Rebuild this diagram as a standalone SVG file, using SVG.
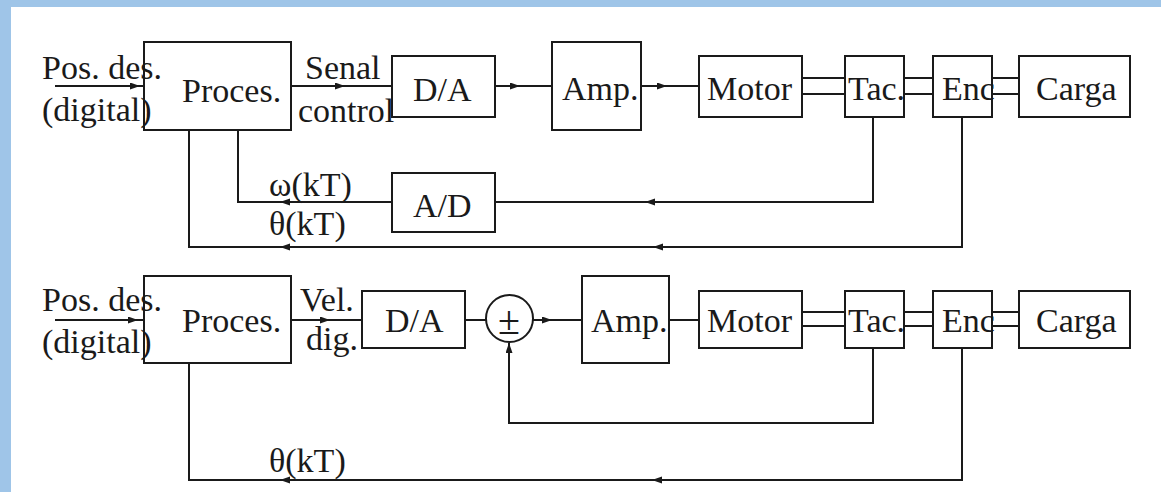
<svg xmlns="http://www.w3.org/2000/svg" width="1161" height="492" viewBox="0 0 1161 492">
<style>
.box{fill:none;stroke:#1a1a1a;stroke-width:2}
.w{fill:none;stroke:#1a1a1a;stroke-width:2}
.t{font-family:"Liberation Serif","Times New Roman",serif;font-size:34px;fill:#1a1a1a}
.pm{font-family:"Liberation Serif","Times New Roman",serif;font-size:40px;fill:#1a1a1a}
.border{fill:#9fc5e8}
</style>
<defs>
<marker id="ah" markerUnits="userSpaceOnUse" markerWidth="12" markerHeight="9" refX="10" refY="3.5" orient="auto">
<path d="M0,0 L10,3.5 L0,7 z" fill="#1a1a1a"/>
</marker>
</defs>
<rect x="0" y="0" width="1161" height="492" fill="#ffffff"/>
<rect class="border" x="0" y="0" width="1161" height="7"/>
<rect class="border" x="0" y="0" width="11" height="492"/>

<g id="connectors">
<!-- top row -->
<path class="w" d="M55,86 H140" marker-end="url(#ah)"/><path class="w" d="M140,86 H144"/>
<path class="w" d="M291,86 H345" marker-end="url(#ah)"/><path class="w" d="M345,86 H392"/>
<path class="w" d="M495,86 H520" marker-end="url(#ah)"/><path class="w" d="M520,86 H552"/>
<path class="w" d="M641,86 H667" marker-end="url(#ah)"/><path class="w" d="M667,86 H699"/>
<path class="w" d="M802,78 H845 M802,94 H845 M904,78 H933 M904,94 H933 M992,78 H1019 M992,94 H1019"/>
<path class="w" d="M873,117 V202 H645" marker-end="url(#ah)"/><path class="w" d="M645,202 H495"/>
<path class="w" d="M392,202 H280" marker-end="url(#ah)"/><path class="w" d="M280,202 H238 V130"/>
<path class="w" d="M962,117 V247 H653" marker-end="url(#ah)"/>
<path class="w" d="M653,247 H280" marker-end="url(#ah)"/><path class="w" d="M280,247 H189 V130"/>
<!-- bottom row -->
<path class="w" d="M55,320 H138" marker-end="url(#ah)"/><path class="w" d="M138,320 H144"/>
<path class="w" d="M291,320 H330" marker-end="url(#ah)"/><path class="w" d="M330,320 H362"/>
<path class="w" d="M465,320 H486"/>
<path class="w" d="M533,320 H552" marker-end="url(#ah)"/><path class="w" d="M552,320 H582"/>
<path class="w" d="M669,320 H699"/>
<path class="w" d="M802,312 H845 M802,326 H845 M904,312 H933 M904,326 H933 M992,312 H1019 M992,326 H1019"/>
<path class="w" d="M873,348 V423 H509 V343" marker-end="url(#ah)"/>
<path class="w" d="M962,348 V480 H652" marker-end="url(#ah)"/>
<path class="w" d="M652,480 H280" marker-end="url(#ah)"/><path class="w" d="M280,480 H189 V363"/>
</g>

<g id="labels">
<text class="t" x="42" y="79">Pos. des.</text>
<text class="t" x="42" y="121">(digital)</text>
<text class="t" x="305" y="79">Senal</text>
<text class="t" x="298" y="122">control</text>
<text class="t" x="269" y="196">ω(kT)</text>
<text class="t" x="269" y="235">θ(kT)</text>
<text class="t" x="42" y="311">Pos. des.</text>
<text class="t" x="42" y="353">(digital)</text>
<text class="t" x="300" y="311">Vel.</text>
<text class="t" x="306" y="350">dig.</text>
<text class="t" x="269" y="472">θ(kT)</text>
</g>

<!-- top diagram nodes -->
<g id="proces1"><rect class="box" x="144" y="42" width="147" height="88"/><text class="t" x="182" y="102">Proces.</text></g>
<g id="da1"><rect class="box" x="392" y="56" width="103" height="61"/><text class="t" x="413" y="101">D/A</text></g>
<g id="amp1"><rect class="box" x="552" y="42" width="89" height="88"/><text class="t" x="562" y="100">Amp.</text></g>
<g id="motor1"><rect class="box" x="699" y="56" width="103" height="61"/><text class="t" x="707" y="100">Motor</text></g>
<g id="tac1"><rect class="box" x="845" y="56" width="59" height="61"/><text class="t" x="848" y="100">Tac.</text></g>
<g id="enc1"><rect class="box" x="933" y="56" width="59" height="61"/><text class="t" x="942" y="100">Enc</text></g>
<g id="carga1"><rect class="box" x="1019" y="56" width="111" height="61"/><text class="t" x="1036" y="100">Carga</text></g>
<g id="ad1"><rect class="box" x="392" y="173" width="103" height="59"/><text class="t" x="413" y="217">A/D</text></g>

<!-- bottom diagram nodes -->
<g id="proces2"><rect class="box" x="144" y="276" width="147" height="87"/><text class="t" x="182" y="332">Proces.</text></g>
<g id="da2"><rect class="box" x="362" y="291" width="103" height="57"/><text class="t" x="385" y="332">D/A</text></g>
<g id="sum2"><circle class="box" cx="509.5" cy="318.5" r="23.5"/><text class="pm" x="509" y="334" text-anchor="middle">±</text></g>
<g id="amp2"><rect class="box" x="582" y="276" width="87" height="87"/><text class="t" x="591" y="332">Amp.</text></g>
<g id="motor2"><rect class="box" x="699" y="291" width="103" height="57"/><text class="t" x="707" y="332">Motor</text></g>
<g id="tac2"><rect class="box" x="845" y="291" width="59" height="57"/><text class="t" x="848" y="332">Tac.</text></g>
<g id="enc2"><rect class="box" x="933" y="291" width="59" height="57"/><text class="t" x="942" y="332">Enc</text></g>
<g id="carga2"><rect class="box" x="1019" y="291" width="111" height="57"/><text class="t" x="1036" y="332">Carga</text></g>
</svg>
